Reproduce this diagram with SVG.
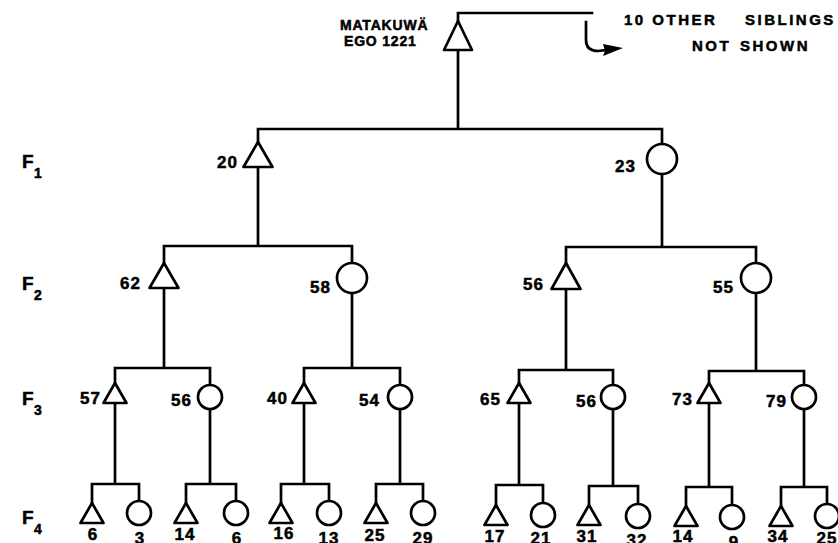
<svg xmlns="http://www.w3.org/2000/svg" width="838" height="543" viewBox="0 0 838 543">
<style>
.ln{stroke:#000;stroke-width:2.7;fill:none;stroke-linecap:square}
.sh{stroke:#000;stroke-width:2.7;fill:#fff;stroke-linejoin:round}
text{font-family:"Liberation Sans",Arial,sans-serif;font-weight:bold;fill:#000;stroke:#000;stroke-width:0.5}
.t{font-size:14px;letter-spacing:0.8px}
.w{font-size:15px;letter-spacing:2.5px}
.n{font-size:17px;letter-spacing:1px}
.f{font-size:19px}
.fs{font-size:14px}
</style>
<rect width="838" height="543" fill="#fff"/>
<g id="generation-labels">
<text class="f" x="22" y="168">F</text><text class="fs" x="34" y="178">1</text>
<text class="f" x="22" y="290">F</text><text class="fs" x="34" y="300">2</text>
<text class="f" x="22" y="405">F</text><text class="fs" x="34" y="415">3</text>
<text class="f" x="22" y="524">F</text><text class="fs" x="34" y="534">4</text>
</g>
<g id="connectors">
<path class="ln" d="M458,21 V13 H592"/>
<path class="ln" d="M586,22 V40 Q586,51 598,51 L606,50"/>
<polygon points="623,48 603,44 605,51 603,56" fill="#000"/>
<path class="ln" d="M458,50 V129 M258,129 H662 M258,129 V142 M662,129 V144"/>
<path class="ln" d="M258,167 V246 M164,246 H352 M164,246 V263 M352,246 V263"/>
<path class="ln" d="M662,174 V247 M566,247 H756 M566,247 V263 M756,247 V263"/>
<path class="ln" d="M164,288 V368 M115,368 H210 M115,368 V383 M210,368 V385"/>
<path class="ln" d="M352,293 V368 M304,368 H400 M304,368 V383 M400,368 V385"/>
<path class="ln" d="M566,289 V370 M519,370 H613 M519,370 V383 M613,370 V385"/>
<path class="ln" d="M756,293 V371 M709,371 H804 M709,371 V383 M804,371 V385"/>
<path class="ln" d="M115,403 V484 M92,484 H139 M92,484 V503 M139,484 V501"/>
<path class="ln" d="M210,409 V484 M186,484 H236 M186,484 V503 M236,484 V501"/>
<path class="ln" d="M304,403 V484 M281,484 H329 M281,484 V503 M329,484 V501"/>
<path class="ln" d="M400,409 V484 M376,484 H423 M376,484 V503 M423,484 V501"/>
<path class="ln" d="M519,403 V485 M496,485 H543 M496,485 V505 M543,485 V503"/>
<path class="ln" d="M613,409 V486 M589,486 H638 M589,486 V505 M638,486 V504"/>
<path class="ln" d="M709,403 V487 M686,487 H732 M686,487 V506 M732,487 V505"/>
<path class="ln" d="M804,409 V487 M781,487 H827 M781,487 V506 M827,487 V504"/>
</g>
<g id="ego">
<polygon class="sh" points="458,21 444,50 472,50"/>
<text class="t" x="340" y="30">MATAKUWÄ</text>
<text class="t" x="344" y="46">EGO 1221</text>
</g>
<g id="note">
<text class="w" x="624" y="25">10 OTHER<tspan x="745">SIBLINGS</tspan></text>
<text class="w" x="692" y="51">NOT<tspan x="740">SHOWN</tspan></text>
</g>
<g id="f1-20"><polygon class="sh" points="258,142 243.5,167 272.5,167"/><text class="n" x="217" y="168">20</text></g>
<g id="f1-23"><circle class="sh" cx="662" cy="159" r="15"/><text class="n" x="615" y="172">23</text></g>
<g id="f2-62"><polygon class="sh" points="164,263 149.5,288 178.5,288"/><text class="n" x="120" y="289">62</text></g>
<g id="f2-58"><circle class="sh" cx="352" cy="278" r="15"/><text class="n" x="310" y="293">58</text></g>
<g id="f2-56"><polygon class="sh" points="566,263 551.5,289 580.5,289"/><text class="n" x="523" y="290">56</text></g>
<g id="f2-55"><circle class="sh" cx="756" cy="278" r="15"/><text class="n" x="713" y="293">55</text></g>
<g id="f3-57"><polygon class="sh" points="115,383 103.5,403 126.5,403"/><text class="n" x="80" y="404">57</text></g>
<g id="f3-56a"><circle class="sh" cx="210" cy="397" r="12"/><text class="n" x="171" y="406">56</text></g>
<g id="f3-40"><polygon class="sh" points="304,383 292.5,403 315.5,403"/><text class="n" x="267" y="404">40</text></g>
<g id="f3-54"><circle class="sh" cx="400" cy="397" r="12"/><text class="n" x="359" y="406">54</text></g>
<g id="f3-65"><polygon class="sh" points="519,383 507.5,403 530.5,403"/><text class="n" x="480" y="405">65</text></g>
<g id="f3-56b"><circle class="sh" cx="613" cy="397" r="12"/><text class="n" x="576" y="407">56</text></g>
<g id="f3-73"><polygon class="sh" points="709,383 697.5,403 720.5,403"/><text class="n" x="672" y="405">73</text></g>
<g id="f3-79"><circle class="sh" cx="804" cy="397" r="12"/><text class="n" x="766" y="407">79</text></g>
<g id="f4-6"><polygon class="sh" points="92,503 80.5,523 103.5,523"/><text class="n" x="93" y="540" text-anchor="middle">6</text></g>
<g id="f4-3"><circle class="sh" cx="139" cy="513" r="12"/><text class="n" x="140" y="544" text-anchor="middle">3</text></g>
<g id="f4-14a"><polygon class="sh" points="186,503 174.5,523 197.5,523"/><text class="n" x="185" y="540" text-anchor="middle">14</text></g>
<g id="f4-6b"><circle class="sh" cx="236" cy="513" r="12"/><text class="n" x="237" y="544" text-anchor="middle">6</text></g>
<g id="f4-16"><polygon class="sh" points="281,503 269.5,523 292.5,523"/><text class="n" x="284" y="539" text-anchor="middle">16</text></g>
<g id="f4-13"><circle class="sh" cx="329" cy="513" r="12"/><text class="n" x="329" y="544" text-anchor="middle">13</text></g>
<g id="f4-25a"><polygon class="sh" points="376,503 364.5,523 387.5,523"/><text class="n" x="375" y="541" text-anchor="middle">25</text></g>
<g id="f4-29"><circle class="sh" cx="423" cy="513" r="12"/><text class="n" x="423" y="544" text-anchor="middle">29</text></g>
<g id="f4-17"><polygon class="sh" points="496,505 484.5,525 507.5,525"/><text class="n" x="495" y="542" text-anchor="middle">17</text></g>
<g id="f4-21"><circle class="sh" cx="543" cy="515" r="12"/><text class="n" x="541" y="544" text-anchor="middle">21</text></g>
<g id="f4-31"><polygon class="sh" points="589,505 577.5,525 600.5,525"/><text class="n" x="587" y="542" text-anchor="middle">31</text></g>
<g id="f4-32"><circle class="sh" cx="638" cy="516" r="12"/><text class="n" x="637" y="546" text-anchor="middle">32</text></g>
<g id="f4-14b"><polygon class="sh" points="686,506 674.5,526 697.5,526"/><text class="n" x="683" y="542" text-anchor="middle">14</text></g>
<g id="f4-9"><circle class="sh" cx="732" cy="517" r="12"/><text class="n" x="734" y="548" text-anchor="middle">9</text></g>
<g id="f4-34"><polygon class="sh" points="781,506 769.5,526 792.5,526"/><text class="n" x="778" y="542" text-anchor="middle">34</text></g>
<g id="f4-25b"><circle class="sh" cx="827" cy="516" r="12"/><text class="n" x="827" y="544" text-anchor="middle">25</text></g>
</svg>
